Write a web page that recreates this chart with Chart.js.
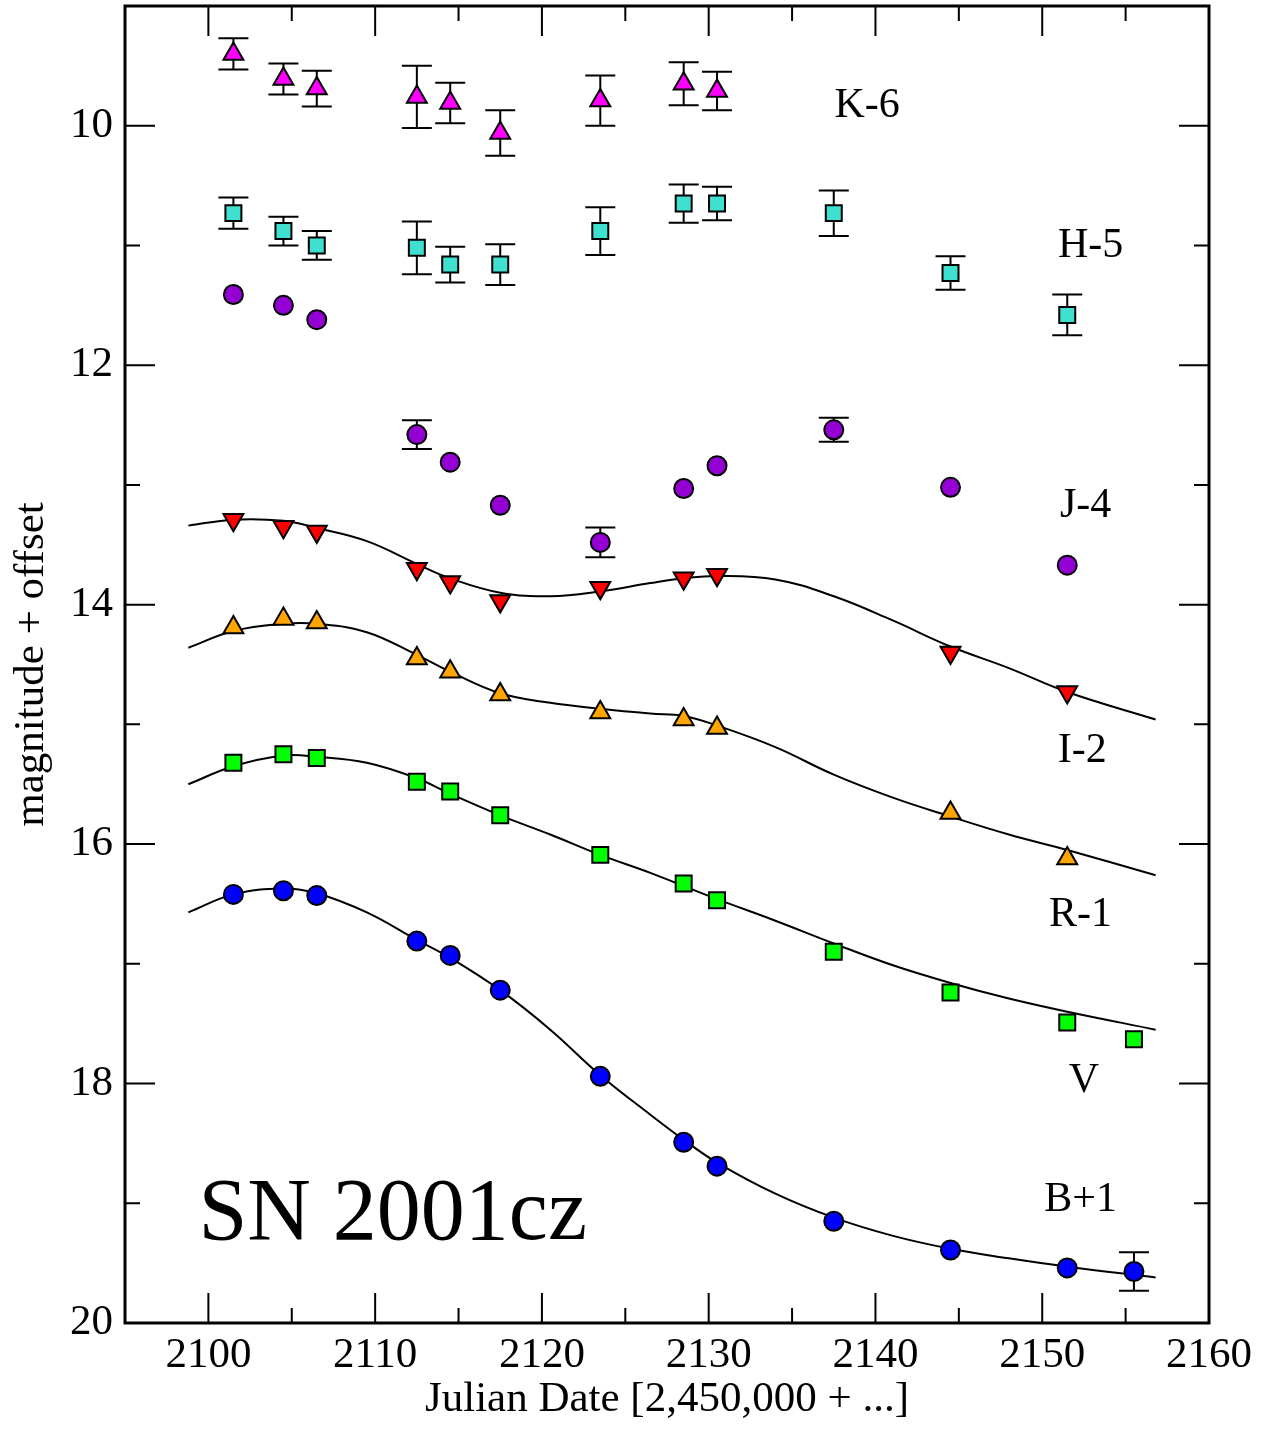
<!DOCTYPE html>
<html>
<head>
<meta charset="utf-8">
<script src="https://cdn.jsdelivr.net/npm/chart.js@4.4.1/dist/chart.umd.min.js"></script>
<style>
  html, body { margin: 0; padding: 0; background: #fff; }
</style>
</head>
<body>
<canvas id="grafico" width="1268" height="1429"></canvas>
<script>
// datas (JD - 2,450,000) e magnitudes
const datasK = [2101.5, 2104.5, 2106.5, 2112.5, 2114.5, 2117.5, 2123.5, 2128.5, 2130.5];
const magK = [9.40, 9.61, 9.69, 9.76, 9.81, 10.06, 9.79, 9.65, 9.71];
const errK = [0.13, 0.13, 0.15, 0.26, 0.17, 0.19, 0.21, 0.18, 0.16];

const datasHJ = [2101.5, 2104.5, 2106.5, 2112.5, 2114.5, 2117.5, 2123.5, 2128.5, 2130.5, 2137.5, 2144.5, 2151.5];
const magH = [10.73, 10.88, 11.00, 11.02, 11.16, 11.16, 10.88, 10.65, 10.65, 10.73, 11.23, 11.58];
const errH = [0.13, 0.12, 0.12, 0.22, 0.15, 0.17, 0.20, 0.16, 0.14, 0.19, 0.14, 0.17];
const magJ = [11.41, 11.50, 11.62, 12.58, 12.81, 13.17, 13.48, 13.03, 12.84, 12.54, 13.02, 13.67];
const errJ = [null, null, null, 0.12, null, null, 0.125, null, null, 0.10, null, null];

const datasIR = [2101.5, 2104.5, 2106.5, 2112.5, 2114.5, 2117.5, 2123.5, 2128.5, 2130.5, 2144.5, 2151.5];
const magI = [13.29, 13.35, 13.39, 13.70, 13.81, 13.97, 13.86, 13.78, 13.75, 14.40, 14.73];
const magR = [14.19, 14.12, 14.15, 14.45, 14.56, 14.75, 14.90, 14.96, 15.03, 15.74, 16.12];

const datasVB = [2101.5, 2104.5, 2106.5, 2112.5, 2114.5, 2117.5, 2123.5, 2128.5, 2130.5, 2137.5, 2144.5, 2151.5, 2155.5];
const magV = [15.32, 15.25, 15.28, 15.48, 15.56, 15.76, 16.09, 16.33, 16.47, 16.90, 17.24, 17.49, 17.63];
const magB = [16.42, 16.39, 16.43, 16.81, 16.93, 17.22, 17.94, 18.49, 18.69, 19.15, 19.39, 19.54, 19.57];
const errB = [null, null, null, null, null, null, null, null, null, null, null, null, 0.16];

// curvas ajustadas (lidas ao longo das linhas)
const datasAjuste = [2098.8, 2101.5, 2104.5, 2106.5, 2109.5, 2112.5, 2114.5, 2117.5, 2120.5, 2123.5,
  2126.5, 2128.5, 2130.5, 2134, 2137.5, 2141, 2144.5, 2148, 2151.5, 2156.8];
const ajusteI = [13.34, 13.29, 13.30, 13.36, 13.47, 13.66, 13.78, 13.90, 13.93, 13.89,
  13.82, 13.78, 13.76, 13.79, 13.93, 14.13, 14.35, 14.53, 14.73, 14.96];
const ajusteR = [14.36, 14.22, 14.16, 14.16, 14.23, 14.42, 14.56, 14.74, 14.82, 14.87,
  14.91, 14.93, 15.01, 15.19, 15.42, 15.61, 15.77, 15.92, 16.05, 16.26];
const ajusteV = [15.50, 15.35, 15.26, 15.27, 15.32, 15.45, 15.58, 15.76, 15.92, 16.09,
  16.24, 16.35, 16.46, 16.64, 16.83, 17.01, 17.16, 17.29, 17.40, 17.55];
const ajusteB = [16.57, 16.42, 16.37, 16.41, 16.57, 16.80, 16.95, 17.22, 17.55, 17.93,
  18.26, 18.47, 18.66, 18.92, 19.12, 19.27, 19.38, 19.46, 19.53, 19.62];

const rotulosBanda = ['K-6', 'H-5', 'J-4', 'I-2', 'R-1', 'V', 'B+1'];
const rotuloX = [2139.5, 2152.9, 2152.6, 2152.4, 2152.3, 2152.5, 2152.3];
const rotuloY = [9.835, 11.005, 13.175, 15.225, 16.595, 17.975, 18.975];

const ticksX = [2100, 2110, 2120, 2130, 2140, 2150, 2160];
const ticksXMenores = [2105, 2115, 2125, 2135, 2145, 2155];
const ticksY = [10, 12, 14, 16, 18, 20];
const ticksYMenores = [11, 13, 15, 17, 19];

const FONTE = 'Liberation Serif';

function pontos(xs, ys) {
  return xs.map((x, i) => ({ x: x, y: ys[i] }));
}

function serieMarcador(xs, ys, cor, estilo, raio, rotacao, erros) {
  return {
    data: pontos(xs, ys),
    showLine: false,
    pointStyle: estilo,
    pointRadius: raio,
    pointRotation: rotacao || 0,
    pointBackgroundColor: cor,
    pointBorderColor: '#000',
    pointBorderWidth: 2,
    erros: erros || null,
    order: 1,
  };
}

function serieAjuste(ys) {
  return {
    data: pontos(datasAjuste, ys),
    showLine: true,
    borderColor: '#000',
    borderWidth: 2,
    pointRadius: 0,
    tension: 0.4,
    fill: false,
    order: 2,
  };
}

const pluginBarras = {
  id: 'barrasErro',
  beforeDatasetsDraw(chart) {
    const ctx = chart.ctx;
    const sx = chart.scales.x;
    const sy = chart.scales.y;
    ctx.save();
    ctx.strokeStyle = '#000';
    ctx.lineWidth = 2;
    chart.data.datasets.forEach((ds) => {
      if (!ds.erros) return;
      ds.data.forEach((p, i) => {
        const e = ds.erros[i];
        if (e == null) return;
        const px = sx.getPixelForValue(p.x);
        const y1 = sy.getPixelForValue(p.y - e);
        const y2 = sy.getPixelForValue(p.y + e);
        ctx.beginPath();
        ctx.moveTo(px, y1); ctx.lineTo(px, y2);
        ctx.moveTo(px - 15, y1); ctx.lineTo(px + 15, y1);
        ctx.moveTo(px - 15, y2); ctx.lineTo(px + 15, y2);
        ctx.stroke();
      });
    });
    ctx.restore();
  },
};

const pluginMoldura = {
  id: 'moldura',
  afterDraw(chart) {
    const ctx = chart.ctx;
    const a = chart.chartArea;
    const sx = chart.scales.x;
    const sy = chart.scales.y;
    ctx.save();
    ctx.strokeStyle = '#000';
    ctx.lineWidth = 2;
    ctx.beginPath();
    const tickX = (v, len) => {
      const px = sx.getPixelForValue(v);
      ctx.moveTo(px, a.bottom); ctx.lineTo(px, a.bottom - len);
      ctx.moveTo(px, a.top); ctx.lineTo(px, a.top + len);
    };
    const tickY = (v, len) => {
      const py = sy.getPixelForValue(v);
      ctx.moveTo(a.left, py); ctx.lineTo(a.left + len, py);
      ctx.moveTo(a.right, py); ctx.lineTo(a.right - len, py);
    };
    ticksX.forEach((v) => tickX(v, 30));
    ticksXMenores.forEach((v) => tickX(v, 15));
    ticksY.forEach((v) => tickY(v, 30));
    ticksYMenores.forEach((v) => tickY(v, 15));
    ctx.stroke();
    ctx.lineWidth = 3;
    ctx.strokeRect(a.left, a.top, a.right - a.left, a.bottom - a.top);

    // rotulos das bandas
    ctx.fillStyle = '#000';
    ctx.textAlign = 'center';
    ctx.textBaseline = 'middle';
    ctx.font = '42px "' + FONTE + '"';
    rotulosBanda.forEach((t, i) => {
      ctx.fillText(t, sx.getPixelForValue(rotuloX[i]), sy.getPixelForValue(rotuloY[i]));
    });
    ctx.textAlign = 'left';
    ctx.font = '88px "' + FONTE + '"';
    ctx.fillText('SN 2001cz', sx.getPixelForValue(2099.4), sy.getPixelForValue(19.105));
    ctx.restore();
  },
};

new Chart(document.getElementById('grafico'), {
  type: 'scatter',
  data: {
    datasets: [
      serieMarcador(datasK, magK, '#ff00ff', 'triangle', 11.5, 0, errK),
      serieMarcador(datasHJ, magH, '#40e0d0', 'rect', 11.3, 0, errH),
      serieMarcador(datasHJ, magJ, '#9400d3', 'circle', 9.5, 0, errJ),
      serieMarcador(datasIR, magI, '#ff0000', 'triangle', 11.5, 180),
      serieMarcador(datasIR, magR, '#ffa500', 'triangle', 11.5, 0),
      serieMarcador(datasVB, magV, '#00ff00', 'rect', 11.3, 0),
      serieMarcador(datasVB, magB, '#0000ff', 'circle', 9.5, 0, errB),
      serieAjuste(ajusteI),
      serieAjuste(ajusteR),
      serieAjuste(ajusteV),
      serieAjuste(ajusteB),
    ],
  },
  options: {
    responsive: false,
    animation: false,
    events: [],
    layout: { autoPadding: false, padding: { top: 6, right: 59, left: 0, bottom: 0 } },
    plugins: { legend: { display: false }, tooltip: { enabled: false } },
    scales: {
      x: {
        type: 'linear',
        min: 2095,
        max: 2160,
        afterBuildTicks: (s) => { s.ticks = ticksX.map((v) => ({ value: v })); },
        afterFit: (s) => { s.height = 106; s.paddingLeft = 0; s.paddingRight = 0; },
        grid: { display: false, drawTicks: false },
        border: { display: false },
        ticks: {
          color: '#000', font: { family: FONTE, size: 43 }, padding: 7, maxRotation: 0, autoSkip: false,
          callback: (v) => String(v),
        },
        title: {
          display: true,
          text: 'Julian Date [2,450,000 + ...]',
          color: '#000',
          font: { family: FONTE, size: 43 },
          padding: { top: 0, bottom: 3 },
        },
      },
      y: {
        type: 'linear',
        reverse: true,
        min: 9,
        max: 20,
        afterBuildTicks: (s) => { s.ticks = ticksY.map((v) => ({ value: v })); },
        afterFit: (s) => { s.width = 125; s.paddingTop = 0; s.paddingBottom = 0; },
        grid: { display: false, drawTicks: false },
        border: { display: false },
        ticks: {
          color: '#000', font: { family: FONTE, size: 43 }, padding: 12, autoSkip: false,
          callback: (v) => String(v),
        },
        title: {
          display: true,
          text: 'magnitude + offset',
          color: '#000',
          font: { family: FONTE, size: 43 },
          padding: { top: 6, bottom: 0 },
        },
      },
    },
  },
  plugins: [pluginBarras, pluginMoldura],
});
</script>
</body>
</html>
